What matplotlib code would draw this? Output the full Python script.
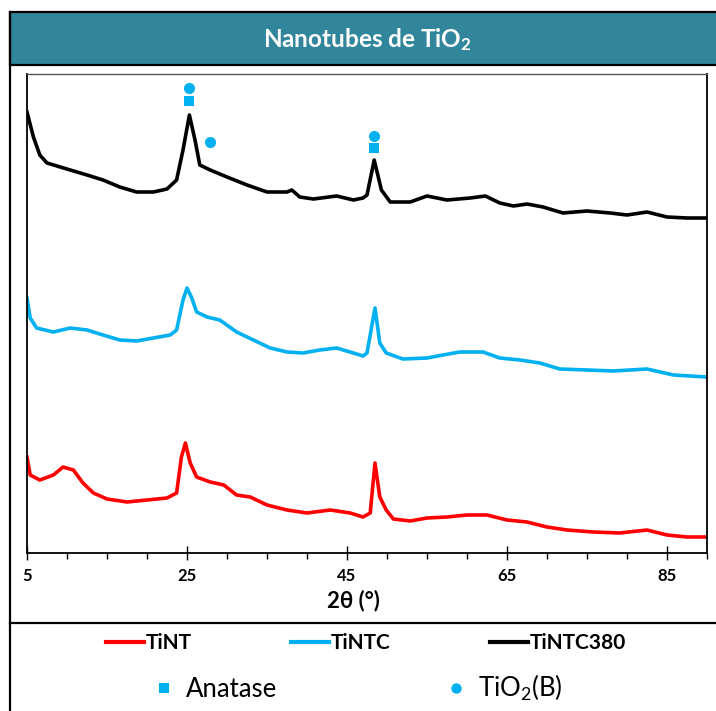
"""
XRD patterns of TiO2 nanotubes (TiNT, TiNTC, TiNTC380), stacked, with phase markers.
"""

import matplotlib

matplotlib.use("Agg")
import matplotlib.pyplot as plt
from matplotlib.lines import Line2D
from matplotlib.patches import Rectangle
from matplotlib.ticker import MultipleLocator

plt.rcParams["font.family"] = ["Lato", "DejaVu Sans"]
plt.rcParams["mathtext.default"] = "regular"

# --- data (2theta in degrees, offset intensity in a.u.) ---
tint_x = [5.0, 5.4, 6.6, 8.3, 9.5, 10.8, 12.0, 13.3, 15.0, 17.5, 20.0, 22.5, 23.7,
          24.3, 24.8, 25.4, 26.2, 27.9, 29.6, 31.2, 32.9, 35.0, 37.5, 40.0, 42.9,
          45.4, 47.0, 47.9, 48.5, 49.1, 49.9, 50.8, 52.9, 55.0, 57.5, 60.0, 62.5,
          65.0, 67.5, 70.0, 72.5, 75.8, 79.1, 82.5, 85.0, 87.5, 90.0]
tint_y = [96, 78, 73, 78, 86, 83, 70, 60, 54, 51, 53, 55, 60,
          96, 110, 90, 76, 71, 68, 58, 56, 48, 43, 40, 43,
          40, 36, 40, 90, 56, 43, 34, 32, 35, 36, 38, 38,
          33, 31, 26, 23, 21, 20, 23, 18, 16, 16]

tintc_x = [5.0, 5.4, 6.2, 8.3, 10.4, 12.5, 14.5, 16.6, 18.7, 20.8, 22.9, 23.7,
           24.5, 25.0, 25.6, 26.2, 27.5, 29.1, 31.2, 33.3, 35.4, 37.5, 39.5, 41.6,
           43.7, 45.8, 47.0, 47.5, 48.5, 49.1, 49.9, 52.0, 55.0, 57.0, 59.1, 62.0,
           64.1, 66.6, 69.1, 71.6, 75.0, 78.3, 82.5, 85.8, 90.0]
tintc_y = [255, 235, 225, 221, 225, 223, 218, 213, 212, 215, 218, 223,
           253, 265, 255, 241, 236, 233, 221, 213, 205, 201, 200, 203,
           205, 200, 197, 200, 245, 210, 200, 194, 195, 198, 201, 201,
           195, 193, 190, 184, 183, 182, 184, 178, 176]

tintc380_x = [5.0, 5.8, 6.6, 7.5, 10.4, 12.5, 14.5, 16.6, 18.7, 20.8, 22.5, 23.7,
              24.5, 25.3, 26.0, 26.6, 27.9, 30.0, 32.5, 35.0, 37.5, 38.1, 39.1,
              40.8, 43.7, 45.8, 47.0, 47.5, 48.4, 49.3, 50.4, 52.9, 55.0, 57.5,
              60.4, 62.3, 64.1, 65.8, 67.5, 69.5, 72.0, 75.0, 77.9, 80.0, 82.5,
              85.0, 87.5, 90.0]
tintc380_y = [441, 416, 398, 390, 383, 378, 373, 366, 361, 361, 364, 373,
              403, 438, 413, 388, 383, 376, 368, 361, 361, 363, 356,
              354, 357, 353, 355, 358, 393, 363, 351, 351, 357, 353,
              355, 357, 350, 347, 349, 346, 340, 342, 340, 338, 341,
              336, 335, 335]

# phase markers
anatase_x = [25.3, 48.4]
anatase_y = [452, 405]
tio2b_x = [25.3, 27.9, 48.4]
tio2b_y = [465, 411, 417]

series_labels = ["TiNT", "TiNTC", "TiNTC380"]
series_colors = ["#FF0000", "#00B0F0", "#000000"]
marker_color = "#00B0F0"
banner_color = "#31869B"

W, H = 716, 711


def fx(px):
    return px / W


def fy(py):
    return 1 - py / H


fig = plt.figure(figsize=(W / 100, H / 100), dpi=100)
ax = fig.add_axes([fx(27), fy(553), (707 - 27) / W, (553 - 74) / H])

for xs, ys, c in zip([tint_x, tintc_x, tintc380_x], [tint_y, tintc_y, tintc380_y],
                     series_colors):
    ax.plot(xs, ys, color=c, linewidth=2.6, solid_joinstyle="round")

ax.plot(anatase_x, anatase_y, linestyle="none", marker="s", markersize=7.5,
        color=marker_color, markeredgewidth=0)
ax.plot(tio2b_x, tio2b_y, linestyle="none", marker="o", markersize=8,
        color=marker_color, markeredgewidth=0)

ax.set_xlim(5, 90)
ax.set_ylim(0, 479)
ax.set_xticks([5, 25, 45, 65, 85])
ax.xaxis.set_minor_locator(MultipleLocator(5))
ax.set_yticks([])
ax.tick_params(axis="x", which="major", direction="inout", length=10, width=1,
               pad=6, labelsize=12)
ax.tick_params(axis="x", which="minor", direction="out", length=4, width=1)
for lab in ax.get_xticklabels():
    lab.set_fontweight("bold")
for side in ["left", "bottom", "right"]:
    ax.spines[side].set_linewidth(1.3)
    ax.spines[side].set_color("black")
ax.spines["top"].set_linewidth(1.0)
ax.spines["top"].set_color("#555555")

fig.text(fx(353), fy(601), "2θ (°)", ha="center", va="center", fontsize=16,
         fontweight="bold")

# frame and title banner
fig.add_artist(Rectangle((fx(10), fy(65)), 1 - fx(10) + 0.01, fy(12) - fy(65),
                         transform=fig.transFigure, facecolor=banner_color,
                         edgecolor="black", linewidth=1.6, zorder=0))
fig.add_artist(Line2D([fx(10), fx(10)], [fy(12), 0], transform=fig.transFigure,
                      color="black", linewidth=1.6))
fig.add_artist(Line2D([fx(10), 1], [fy(623), fy(623)], transform=fig.transFigure,
                      color="black", linewidth=1.6))
fig.text(fx(367), fy(40), r"Nanotubes de TiO$_2$", ha="center", va="center",
         color="white", fontsize=17.5, fontweight="bold")

# legends
line_handles = [Line2D([], [], color=c, linewidth=3) for c in series_colors]
leg1 = fig.legend(line_handles, series_labels, loc="center", ncol=3,
                  bbox_to_anchor=(fx(366), fy(643)), frameon=False,
                  prop={"size": 15, "weight": "bold"}, handlelength=1.83,
                  handletextpad=0.1, columnspacing=4.75)
marker_handles = [
    Line2D([], [], linestyle="none", marker="s", markersize=7, color=marker_color,
           markeredgewidth=0),
    Line2D([], [], linestyle="none", marker="o", markersize=7.5, color=marker_color,
           markeredgewidth=0),
]
leg2 = fig.legend(marker_handles, ["Anatase", r"TiO$_2$(B)"], loc="center", ncol=2,
                  bbox_to_anchor=(fx(357), fy(688)), frameon=False,
                  prop={"size": 18.5}, handlelength=1.0, handletextpad=0.35,
                  columnspacing=6.45)

fig.savefig("out.png", dpi=100)
